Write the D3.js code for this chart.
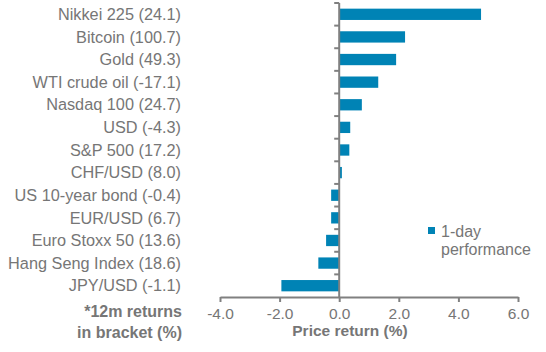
<!DOCTYPE html>
<html>
<head>
<meta charset="utf-8">
<script src="https://cdn.jsdelivr.net/npm/d3@7"></script>
<style>
  html, body { margin: 0; padding: 0; background: #fff; }
  svg { display: block; font-family: Arial, "Liberation Sans", sans-serif; }
</style>
</head>
<body>
<svg id="chart"></svg>
<script>
// ───────────────── DATA ─────────────────
const categories = [
  "Nikkei 225 (24.1)",
  "Bitcoin (100.7)",
  "Gold (49.3)",
  "WTI crude oil (-17.1)",
  "Nasdaq 100 (24.7)",
  "USD (-4.3)",
  "S&P 500 (17.2)",
  "CHF/USD (8.0)",
  "US 10-year bond (-0.4)",
  "EUR/USD (6.7)",
  "Euro Stoxx 50 (13.6)",
  "Hang Seng Index (18.6)",
  "JPY/USD (-1.1)"
];
const dayReturn = [4.76, 2.21, 1.91, 1.31, 0.76, 0.37, 0.34, 0.09, -0.27, -0.27, -0.44, -0.70, -1.94];
const xTicks = [-4, -2, 0, 2, 4, 6];
const seriesName = ["1-day", "performance"];
const noteLines = ["*12m returns", "in bracket (%)"];
const xTitle = "Price return (%)";

// ───────────────── SIZE ─────────────────
const W = 546, H = 352;
const plot = { left: 220, right: 518, top: 3, bottom: 297 };
const BLUE = "#0083b5";
const GREY = "#808080";
const TEXT = "#767676";

const svg = d3.select("#chart")
  .attr("width", W)
  .attr("height", H);

// ───────────────── SCALES ─────────────────
const x = d3.scaleLinear()
  .domain([-4, 6])
  .range([plot.left, plot.right]);

const y = d3.scaleBand()
  .domain(categories)
  .range([plot.top, plot.bottom])
  .padding(0);

const bw = y.bandwidth();

// ───── BARS ─────
svg.append("g")
  .selectAll("rect")
  .data(categories)
  .join("rect")
  .attr("x", (c, i) => x(Math.min(0, dayReturn[i])))
  .attr("y", c => y(c) + bw * 0.25)
  .attr("width", (c, i) => Math.abs(x(dayReturn[i]) - x(0)))
  .attr("height", bw * 0.5)
  .attr("fill", BLUE);

// ───── X AXIS ─────
const xAxis = svg.append("g")
  .attr("transform", `translate(0,${plot.bottom})`)
  .call(
    d3.axisBottom(x)
      .tickValues(xTicks)
      .tickSizeInner(5)
      .tickSizeOuter(0)
      .tickPadding(6)
      .tickFormat(d => d.toFixed(1))   // plain hyphen, like the original
  );

xAxis.select(".domain")
  .attr("stroke", GREY)
  .attr("stroke-width", 2);

xAxis.selectAll(".tick line")
  .attr("stroke", GREY)
  .attr("stroke-width", 2);

xAxis.selectAll(".tick text")
  .attr("fill", TEXT)
  .style("font-size", "15.5px")
  .style("font-family", "Arial, 'Liberation Sans', sans-serif");

// ───── Y AXIS (at zero) ─────
const yg = svg.append("g");

yg.append("line")
  .attr("x1", x(0)).attr("x2", x(0))
  .attr("y1", plot.top).attr("y2", plot.bottom)
  .attr("stroke", GREY)
  .attr("stroke-width", 2);

yg.selectAll(".ytick")
  .data(categories)
  .join("line")
  .attr("class", "ytick")
  .attr("x1", x(0) - 5).attr("x2", x(0))
  .attr("y1", c => y(c)).attr("y2", c => y(c))
  .attr("stroke", GREY)
  .attr("stroke-width", 2);

// ───── CATEGORY LABELS ─────
svg.append("g")
  .selectAll("text")
  .data(categories)
  .join("text")
  .attr("x", 181)
  .attr("y", c => y(c) + bw / 2)
  .attr("dy", "0.35em")
  .attr("text-anchor", "end")
  .attr("fill", TEXT)
  .style("font-size", "16.3px")
  .text(c => c);

// ───── NOTE ─────
svg.append("g")
  .selectAll("text")
  .data(noteLines)
  .join("text")
  .attr("x", 182)
  .attr("y", (d, i) => 317 + i * 21)
  .attr("text-anchor", "end")
  .attr("fill", TEXT)
  .style("font-size", "16px")
  .style("font-weight", "700")
  .text(d => d);

// ───── AXIS TITLE ─────
svg.append("text")
  .attr("x", 350)
  .attr("y", 336)
  .attr("text-anchor", "middle")
  .attr("fill", TEXT)
  .style("font-size", "15.5px")
  .style("font-weight", "700")
  .text(xTitle);

// ───── LEGEND ─────
const lg = svg.append("g")
  .attr("transform", "translate(428,227)");

lg.append("rect")
  .attr("width", 7)
  .attr("height", 7)
  .attr("fill", BLUE);

lg.selectAll("text")
  .data(seriesName)
  .join("text")
  .attr("x", 13)
  .attr("y", (d, i) => 10 + i * 18)
  .attr("fill", TEXT)
  .style("font-size", "16px")
  .text(d => d);
</script>
</body>
</html>
